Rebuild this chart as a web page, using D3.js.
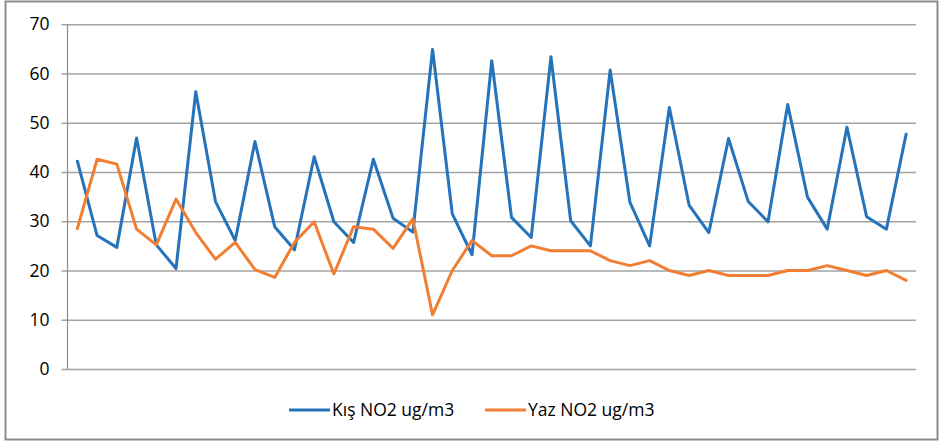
<!DOCTYPE html>
<html>
<head>
<meta charset="utf-8">
<script src="https://cdn.jsdelivr.net/npm/d3@7"></script>
<style>
  html, body { margin: 0; padding: 0; background: #fff; }
  svg { display: block; font-family: "Open Sans", "Liberation Sans", sans-serif; }
</style>
</head>
<body>
<svg id="chart" width="939" height="443"></svg>
<script>
// Monthly NO2 readings, winter vs summer
const categories = d3.range(1, 44);
const kisNO2 = [42.2, 27.1, 24.7, 46.9, 25.2, 20.4, 56.3, 34.0, 26.1, 46.2, 28.9, 24.2, 43.1,
  29.9, 25.7, 42.6, 30.6, 27.8, 64.9, 31.5, 23.2, 62.6, 30.8, 26.7, 63.4, 30.1, 25.0, 60.7,
  33.9, 25.0, 53.1, 33.3, 27.7, 46.8, 34.0, 29.9, 53.7, 34.9, 28.4, 49.1, 30.9, 28.4, 47.7];
const yazNO2 = [28.5, 42.6, 41.6, 28.4, 25.2, 34.5, 27.7, 22.3, 25.7, 20.2, 18.6, 25.7, 29.9,
  19.3, 28.9, 28.4, 24.5, 30.5, 11.0, 20.0, 26.1, 23.0, 23.0, 25.0, 24.0, 24.0, 24.0, 22.0,
  21.0, 22.0, 20.0, 19.0, 20.0, 19.0, 19.0, 19.0, 20.0, 20.0, 21.0, 20.0, 19.0, 20.0, 18.0];
const yTicks = [0, 10, 20, 30, 40, 50, 60, 70];
const seriesNames = ["Kış NO2 ug/m3", "Yaz NO2 ug/m3"];
const seriesColors = ["#2573BA", "#F07F33"];

const svg = d3.select("#chart");

// outer frame
svg.append("rect")
  .attr("x", 5.5).attr("y", 1.5)
  .attr("width", 932).attr("height", 438)
  .attr("fill", "none").attr("stroke", "#8c8c8c").attr("stroke-width", 2);

const plot = { left: 67.5, right: 916, top: 24.3, bottom: 369 };

const x = d3.scaleBand().domain(categories).range([plot.left, plot.right]);
const y = d3.scaleLinear().domain([0, 70]).range([plot.bottom, plot.top]);

// horizontal gridlines with small ticks left of the axis
const yAxis = d3.axisLeft(y).tickValues(yTicks)
  .tickSize(-(plot.right - plot.left)).tickPadding(18);
const gy = svg.append("g").attr("transform", `translate(${plot.left},0)`).call(yAxis);
gy.select(".domain").remove();
gy.selectAll(".tick line")
  .attr("x1", -6)
  .attr("stroke", "#a3a3a3").attr("stroke-width", 1.5);
gy.selectAll(".tick text")
  .attr("fill", "#000").attr("font-size", 17.5)
  .attr("font-family", "\"Open Sans\", sans-serif");

// vertical axis line
svg.append("line")
  .attr("x1", plot.left).attr("x2", plot.left)
  .attr("y1", plot.top).attr("y2", plot.bottom)
  .attr("stroke", "#8c8c8c").attr("stroke-width", 1.2);

const line = d3.line()
  .x((d, i) => x(categories[i]) + x.bandwidth() / 2)
  .y(d => y(d));

[kisNO2, yazNO2].forEach((vals, k) => {
  svg.append("path")
    .datum(vals)
    .attr("d", line)
    .attr("fill", "none")
    .attr("stroke", seriesColors[k])
    .attr("stroke-width", 3)
    .attr("stroke-linejoin", "round")
    .attr("stroke-linecap", "round");
});

// legend
const legendX = [289, 485];
const legend = svg.append("g");
seriesNames.forEach((name, k) => {
  const g = legend.append("g").attr("transform", `translate(${legendX[k]},410)`);
  g.append("line").attr("x1", 0).attr("x2", 41).attr("y1", 0).attr("y2", 0)
    .attr("stroke", seriesColors[k]).attr("stroke-width", 3);
  g.append("text").attr("x", 43).attr("y", 0).attr("dy", "0.36em")
    .attr("font-size", 17.5).attr("fill", "#000").text(name);
});
</script>
</body>
</html>
